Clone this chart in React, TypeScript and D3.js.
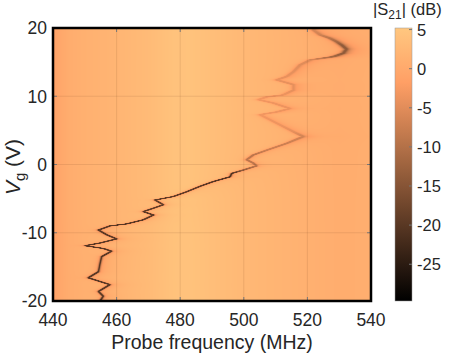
import React, { useMemo } from "react";
import * as d3 from "d3";

const W = 474;
const H = 356;
const M = { left: 53, right: 371, top: 28, bottom: 301 };
const CB = { left: 395, right: 412 };

// background |S21| level vs probe frequency (dB)
const bgFreq = [440, 442, 445, 450, 460, 470, 478, 483, 490, 500, 510, 520, 530, 540];
const bgLevel = [-1.5, -0.5, 0.5, 1.2, 2.0, 3.0, 4.3, 4.4, 3.6, 2.6, 1.9, 1.2, 0.6, 0.8];

// resonance trace: gate voltage (V) -> dip centre (MHz)
const vgPts = [
  -20, -19.3, -18.6, -17.6, -16.6, -15.7, -14.5, -13.5, -12.7, -12.3, -11.9, -11.5, -10.9, -10.3,
  -9.6, -9.0, -8.7, -8.1, -7.4, -6.9, -6.4, -5.9, -5.2, -4.7, -4.0, -3.2, -2.5, -1.8, -1.3, -0.8,
  -0.2, 0.2, 0.7, 1.4, 2.1, 3.1, 4.1, 4.8, 5.8, 6.8, 7.3, 7.7, 8.2, 9.0, 9.5, 9.9, 10.2, 10.9,
  11.7, 12.4, 12.9, 13.6, 14.6, 15.3, 15.8, 16.3, 16.9, 17.5, 18.0, 18.5, 19.0, 19.7, 20,
];
const fResPts = [
  454.8, 455.8, 454.3, 457.9, 451.1, 454.3, 454.8, 455.3, 458.4, 455.8, 450.1, 454.8, 460.0, 456.9,
  454.3, 457.9, 463.2, 468.4, 471.6, 468.4, 471.6, 474.7, 472.1, 477.8, 482.0, 486.2, 490.4, 495.7,
  496.2, 499.9, 504.0, 503.0, 500.9, 503.0, 507.2, 513.5, 518.7, 515.6, 511.4, 507.2, 505.1, 510.3,
  514.5, 509.3, 504.6, 507.2, 512.4, 515.6, 515.6, 510.3, 513.5, 515.6, 517.7, 520.8, 528.2, 531.3,
  532.3, 530.8, 529.2, 527.1, 524.0, 521.9, 522.5,
];
// dip depth (dB), half width (MHz) and right-hand haze depth (dB) at each trace point
const dipDepth = [
  20, 20, 20, 20, 20, 20, 20, 20, 20, 20, 20, 20, 20, 20, 20, 20, 21, 21, 21, 21, 21, 21, 21, 22,
  22, 22, 22, 22, 22, 14, 10, 10, 10, 10, 8, 7, 5, 3.5, 3.5, 3.5, 3.5, 3.5, 3.5, 3.5, 3.5, 3.5,
  3.5, 3.5, 3.5, 3.5, 3.5, 3.5, 3.5, 3.5, 9, 11, 11, 11, 9, 7, 5, 4, 4,
];
const dipWidth = [
  0.3, 0.3, 0.3, 0.3, 0.3, 0.3, 0.3, 0.3, 0.3, 0.3, 0.3, 0.3, 0.3, 0.3, 0.3, 0.3, 0.3, 0.3, 0.3,
  0.3, 0.3, 0.3, 0.3, 0.3, 0.3, 0.3, 0.3, 0.3, 0.3, 0.4, 0.45, 0.45, 0.45, 0.45, 0.5, 0.5, 0.7,
  0.7, 0.7, 0.7, 0.7, 0.7, 0.7, 0.7, 0.7, 0.7, 0.7, 0.7, 0.7, 0.7, 0.7, 0.7, 0.7, 0.7, 0.8, 0.8,
  0.8, 0.8, 0.8, 0.8, 0.8, 0.8, 0.8,
];
const hazeDepth = [
  1.5, 1.5, 1.5, 1.5, 1.5, 1.5, 1.5, 1.5, 1.5, 1.5, 1.5, 1.5, 1.5, 1.5, 1.5, 1.5, 1.5, 1.5, 1.5,
  1.5, 1.5, 1.5, 1.5, 1.5, 1.5, 1.5, 1.5, 1.5, 1.5, 1.5, 1.5, 1.5, 1.5, 1.5, 1.5, 2, 3, 2.5, 2, 2,
  2, 2, 2, 2, 2, 2, 2, 2.5, 2.5, 2.5, 2.5, 2.5, 3, 3, 3.5, 3.5, 3.5, 3.5, 3, 3, 3, 3, 3,
];

const xTicks = [440, 460, 480, 500, 520, 540];
const yTicks = [-20, -10, 0, 10, 20];
const cbTicks = [5, 0, -5, -10, -15, -20, -25];
const cbDomain = [-29.7, 5.2];

const FONT = "'Liberation Sans', Arial, sans-serif";

// MATLAB copper colormap
function copper(t: number): [number, number, number] {
  const c = Math.max(0, Math.min(1, t));
  return [Math.min(1, 1.25 * c) * 255, 0.7812 * c * 255, 0.4975 * c * 255];
}

const x = d3.scaleLinear().domain([440, 540]).range([M.left, M.right]);
const y = d3.scaleLinear().domain([-20, 20]).range([M.bottom, M.top]);
const cbY = d3.scaleLinear().domain(cbDomain).range([M.bottom, M.top]);

function useHeatmap() {
  return useMemo(() => {
    const w = M.right - M.left;
    const h = M.bottom - M.top;
    const canvas = document.createElement("canvas");
    canvas.width = w;
    canvas.height = h;
    const ctx = canvas.getContext("2d")!;
    const img = ctx.createImageData(w, h);

    const bg = d3.scaleLinear().domain(bgFreq).range(bgLevel).clamp(true);
    const fAt = d3.scaleLinear().domain(vgPts).range(fResPts).clamp(true);
    const dAt = d3.scaleLinear().domain(vgPts).range(dipDepth).clamp(true);
    const wAt = d3.scaleLinear().domain(vgPts).range(dipWidth).clamp(true);
    const hAt = d3.scaleLinear().domain(vgPts).range(hazeDepth).clamp(true);
    const norm = d3.scaleLinear().domain(cbDomain).range([0, 1]);

    for (let j = 0; j < h; j++) {
      const vTop = y.invert(M.top + j);
      const vBot = y.invert(M.top + j + 1);
      const vMid = (vTop + vBot) / 2;
      let lo = Math.min(fAt(vTop), fAt(vBot));
      let hi = Math.max(fAt(vTop), fAt(vBot));
      vgPts.forEach((v, k) => {
        if (v < vTop && v > vBot) {
          lo = Math.min(lo, fResPts[k]);
          hi = Math.max(hi, fResPts[k]);
        }
      });
      const D = dAt(vMid);
      const hw = wAt(vMid);
      const Hz = hAt(vMid);
      for (let i = 0; i < w; i++) {
        const f = x.invert(M.left + i + 0.5);
        const dist = f < lo ? lo - f : f > hi ? f - hi : 0;
        let val = bg(f) - D / (1 + (dist / hw) ** 2);
        if (f > hi) val -= Hz / (1 + ((f - hi) / 3.5) ** 2);
        else if (f < lo) val -= Hz / (1 + ((lo - f) / 0.8) ** 2);
        else val -= Hz;
        const [r, g, b] = copper(norm(val));
        const p = (j * w + i) * 4;
        img.data[p] = r;
        img.data[p + 1] = g;
        img.data[p + 2] = b;
        img.data[p + 3] = 255;
      }
    }
    ctx.putImageData(img, 0, 0);
    return canvas.toDataURL();
  }, []);
}

export default function App() {
  const url = useHeatmap();
  const stops = d3.range(0, 1.0001, 0.05).concat([0.8]).sort((a, b) => a - b);

  return (
    <svg
      width={W}
      height={H}
      style={{ position: "absolute", left: 0, top: 0, background: "#fff", fontFamily: FONT }}
    >
      <defs>
        <linearGradient id="copper" x1="0" y1="1" x2="0" y2="0">
          {stops.map((t) => {
            const [r, g, b] = copper(t);
            return <stop key={t} offset={t} stopColor={d3.rgb(r, g, b).formatHex()} />;
          })}
        </linearGradient>
      </defs>

      {/* heatmap */}
      <image
        href={url}
        x={M.left}
        y={M.top}
        width={M.right - M.left}
        height={M.bottom - M.top}
        preserveAspectRatio="none"
      />

      {/* grid */}
      {xTicks.slice(1, -1).map((t) => (
        <line key={"gx" + t} x1={x(t)} x2={x(t)} y1={M.top} y2={M.bottom} stroke="rgba(110,60,30,0.13)" />
      ))}
      {yTicks.slice(1, -1).map((t) => (
        <line key={"gy" + t} x1={M.left} x2={M.right} y1={y(t)} y2={y(t)} stroke="rgba(110,60,30,0.13)" />
      ))}

      {/* inward ticks */}
      {xTicks.map((t) => (
        <g key={"tx" + t} stroke="#777">
          <line x1={x(t)} x2={x(t)} y1={M.bottom} y2={M.bottom - 4} />
          <line x1={x(t)} x2={x(t)} y1={M.top} y2={M.top + 4} />
        </g>
      ))}
      {yTicks.map((t) => (
        <g key={"ty" + t} stroke="#777">
          <line x1={M.left} x2={M.left + 4} y1={y(t)} y2={y(t)} />
          <line x1={M.right} x2={M.right - 4} y1={y(t)} y2={y(t)} />
        </g>
      ))}

      {/* box */}
      <rect
        x={M.left}
        y={M.top}
        width={M.right - M.left}
        height={M.bottom - M.top}
        fill="none"
        stroke="#000"
        strokeWidth={2.5}
      />

      {/* tick labels */}
      {xTicks.map((t) => (
        <text key={"lx" + t} x={x(t)} y={326} fontSize={17.5} textAnchor="middle" fill="#262626">
          {t}
        </text>
      ))}
      {yTicks.map((t) => (
        <text
          key={"ly" + t}
          x={47}
          y={y(t)}
          dy="0.36em"
          fontSize={17.5}
          textAnchor="end"
          fill="#262626"
        >
          {t}
        </text>
      ))}

      {/* axis labels */}
      <text x={(M.left + M.right) / 2} y={349} fontSize={19.5} textAnchor="middle" fill="#262626">
        Probe frequency (MHz)
      </text>
      <text transform="translate(20,167) rotate(-90)" fontSize={21} textAnchor="middle" fill="#262626">
        <tspan fontStyle="italic">V</tspan>
        <tspan dy={5} fontSize={15}>g</tspan>
        <tspan dy={-5}> (V)</tspan>
      </text>

      {/* colorbar */}
      <rect
        x={CB.left}
        y={M.top}
        width={CB.right - CB.left}
        height={M.bottom - M.top}
        fill="url(#copper)"
        stroke="#999"
        strokeWidth={0.5}
      />
      {cbTicks.map((t) => (
        <g key={"cb" + t}>
          <line x1={CB.right} x2={CB.right - 3} y1={cbY(t)} y2={cbY(t)} stroke="#777" />
          <text x={417} y={cbY(t)} dy="0.36em" fontSize={16.5} fill="#262626">
            {t}
          </text>
        </g>
      ))}
      <text x={373} y={15} fontSize={16.5} fill="#262626">
        |S<tspan dy={4} fontSize={12}>21</tspan>
        <tspan dy={-4}>| (dB)</tspan>
      </text>
    </svg>
  );
}
